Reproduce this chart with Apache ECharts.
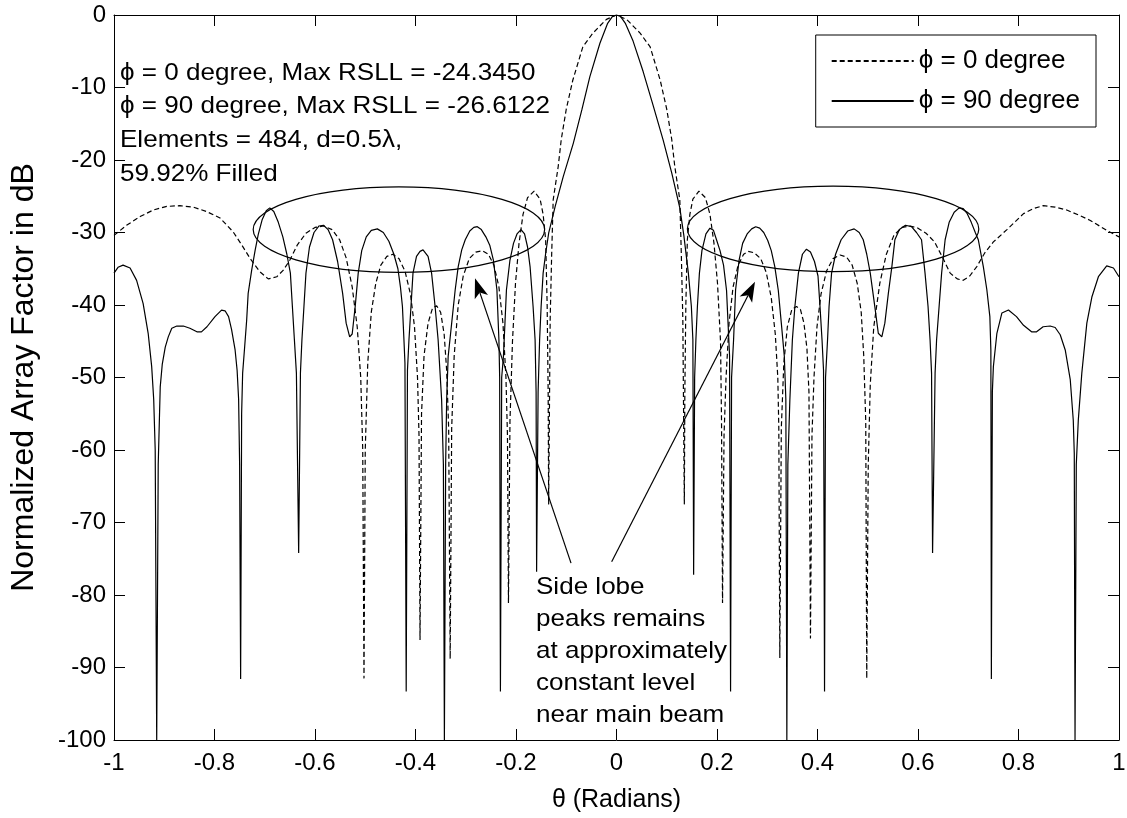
<!DOCTYPE html>
<html>
<head>
<meta charset="utf-8">
<title>Array factor cuts</title>
<script src="https://cdn.jsdelivr.net/npm/echarts@6.0.0/dist/echarts.min.js"></script>
<style>
html, body { margin: 0; padding: 0; background: #fff; }
#main { width: 1127px; height: 818px; }
</style>
</head>
<body>
<div id="main"></div>
<script>
// phi = 0 cut (dashed): theta in radians, normalized AF in dB
var thetaPhi0 = [
  -1.000, -0.975, -0.948, -0.922, -0.895, -0.869, -0.842, -0.816, -0.789, -0.763, -0.745, -0.729,
  -0.710, -0.693, -0.676, -0.663, -0.650, -0.635, -0.618, -0.600, -0.583, -0.566, -0.551, -0.538,
  -0.526, -0.516, -0.509, -0.505, -0.5025, -0.500, -0.495, -0.488, -0.479, -0.469, -0.457, -0.445,
  -0.433, -0.421, -0.410, -0.402, -0.396, -0.393, -0.391, -0.388, -0.383, -0.375, -0.366, -0.358,
  -0.350, -0.343, -0.338, -0.334, -0.331, -0.328, -0.323, -0.315, -0.305, -0.293, -0.280, -0.267,
  -0.255, -0.244, -0.234, -0.226, -0.220, -0.217, -0.215, -0.212, -0.207, -0.201, -0.194, -0.186,
  -0.177, -0.164, -0.152, -0.146, -0.141, -0.138, -0.136, -0.135, -0.132, -0.129, -0.126, -0.116,
  -0.110, -0.100, -0.087, -0.067, -0.047, -0.020, 0.000,
  0.020, 0.047, 0.067, 0.087, 0.100, 0.110, 0.116, 0.126, 0.129, 0.132, 0.135, 0.136,
  0.138, 0.141, 0.146, 0.152, 0.164, 0.177, 0.186, 0.194, 0.201, 0.207, 0.209, 0.211,
  0.214, 0.218, 0.224, 0.232, 0.242, 0.253, 0.262, 0.274, 0.287, 0.298, 0.308, 0.316,
  0.321, 0.323, 0.325, 0.328, 0.333, 0.340, 0.349, 0.358, 0.366, 0.373, 0.379, 0.383,
  0.386, 0.389, 0.393, 0.399, 0.407, 0.418, 0.431, 0.445, 0.458, 0.469, 0.479, 0.487,
  0.492, 0.496, 0.498, 0.501, 0.505, 0.512, 0.524, 0.537, 0.552, 0.568, 0.584, 0.600,
  0.616, 0.633, 0.650, 0.664, 0.678, 0.690, 0.703, 0.717, 0.733, 0.750, 0.777, 0.810,
  0.830, 0.849, 0.873, 0.896, 0.920, 0.942, 0.9755, 1.000
];
var afPhi0 = [
  -30.4, -29.0, -27.8, -26.9, -26.4, -26.3, -26.5, -27.1, -28.0, -29.9, -31.8, -33.6,
  -35.4, -36.4, -36.1, -35.2, -33.8, -31.7, -30.1, -29.3, -29.1, -29.6, -31.0, -33.5,
  -37.5, -43.0, -50.0, -60.0, -91.5, -60.0, -48.0, -41.0, -37.0, -34.5, -33.3, -33.0,
  -33.6, -35.3, -38.5, -43.0, -50.0, -58.0, -86.2, -55.0, -47.0, -42.5, -40.4, -40.1,
  -41.0, -44.0, -49.0, -57.0, -88.8, -57.0, -47.0, -40.0, -36.0, -33.6, -32.7, -32.5,
  -33.0, -34.5, -37.5, -42.5, -50.0, -58.0, -81.1, -56.0, -45.0, -37.0, -31.5, -27.5,
  -25.2, -24.3, -25.4, -27.5, -31.0, -40.0, -52.0, -67.5, -42.0, -33.0, -25.5, -20.9,
  -17.2, -13.0, -9.0, -4.4, -2.5, -0.6, 0.0,
  -0.6, -2.5, -4.4, -9.0, -13.0, -17.2, -20.9, -25.5, -33.0, -42.0, -67.5, -52.0,
  -40.0, -31.0, -27.5, -25.4, -24.3, -25.2, -27.5, -31.5, -37.0, -45.0, -56.0, -81.1,
  -58.0, -50.0, -42.5, -37.5, -34.5, -33.0, -32.6, -32.8, -33.6, -35.5, -39.0, -44.0,
  -50.0, -57.0, -88.7, -57.0, -48.0, -43.0, -40.6, -40.2, -40.6, -42.5, -46.0, -52.0,
  -86.0, -58.0, -50.0, -43.0, -38.5, -35.3, -33.6, -33.1, -33.4, -34.5, -37.0, -41.0,
  -47.0, -56.0, -91.5, -62.0, -51.0, -43.0, -37.0, -33.0, -30.4, -29.3, -29.1, -29.4,
  -30.1, -31.3, -33.6, -35.6, -36.4, -36.6, -36.0, -34.7, -32.8, -31.3, -29.6, -27.4,
  -26.7, -26.3, -26.5, -26.9, -27.6, -28.3, -29.7, -30.6
];

// phi = 90 cut (solid)
var thetaPhi90 = [
  -1.000, -0.992, -0.982, -0.968, -0.955, -0.942, -0.932, -0.925, -0.921, -0.918, -0.915, -0.912,
  -0.908, -0.904, -0.898, -0.892, -0.885, -0.875, -0.862, -0.849, -0.835, -0.826, -0.815, -0.799,
  -0.786, -0.779, -0.772, -0.766, -0.759, -0.755, -0.752, -0.750, -0.748, -0.746, -0.744, -0.740,
  -0.736, -0.733, -0.726, -0.719, -0.713, -0.705, -0.697, -0.690, -0.682, -0.673, -0.664, -0.656,
  -0.649, -0.645, -0.641, -0.637, -0.6325, -0.629, -0.626, -0.622, -0.618, -0.611, -0.602, -0.592,
  -0.583, -0.574, -0.565, -0.555, -0.545, -0.538, -0.531, -0.526, -0.520, -0.514, -0.507, -0.498,
  -0.488, -0.476, -0.464, -0.453, -0.443, -0.435, -0.430, -0.426, -0.423, -0.421, -0.4185, -0.416,
  -0.413, -0.409, -0.405, -0.398, -0.391, -0.385, -0.375, -0.368, -0.361, -0.355, -0.348, -0.3445,
  -0.3425, -0.340, -0.338, -0.335, -0.328, -0.321, -0.315, -0.308, -0.301, -0.292, -0.284, -0.277,
  -0.269, -0.260, -0.252, -0.245, -0.238, -0.234, -0.2325, -0.231, -0.2285, -0.225, -0.222, -0.219,
  -0.212, -0.205, -0.198, -0.190, -0.183, -0.177, -0.172, -0.166, -0.162, -0.160, -0.159, -0.156,
  -0.153, -0.150, -0.146, -0.141, -0.135, -0.122, -0.106, -0.086, -0.069, -0.053, -0.033, -0.018,
  -0.008, 0.000,
  0.008, 0.018, 0.033, 0.053, 0.073, 0.093, 0.110, 0.126, 0.134, 0.143, 0.149, 0.152,
  0.1535, 0.1555, 0.158, 0.161, 0.165, 0.170, 0.178, 0.186, 0.193, 0.199, 0.206, 0.213,
  0.219, 0.222, 0.225, 0.227, 0.229, 0.233, 0.237, 0.244, 0.251, 0.260, 0.269, 0.277,
  0.285, 0.293, 0.301, 0.308, 0.315, 0.322, 0.328, 0.334, 0.337, 0.339, 0.341, 0.345,
  0.350, 0.355, 0.362, 0.370, 0.378, 0.386, 0.394, 0.401, 0.405, 0.409, 0.412, 0.414,
  0.416, 0.420, 0.423, 0.428, 0.436, 0.447, 0.460, 0.473, 0.483, 0.491, 0.498, 0.505,
  0.514, 0.521, 0.528, 0.534, 0.541, 0.548, 0.554, 0.563, 0.575, 0.587, 0.597, 0.607,
  0.614, 0.620, 0.624, 0.627, 0.629, 0.634, 0.637, 0.642, 0.647, 0.654, 0.662, 0.672,
  0.682, 0.690, 0.698, 0.706, 0.714, 0.720, 0.730, 0.737, 0.743, 0.745, 0.746, 0.748,
  0.750, 0.757, 0.767, 0.780, 0.796, 0.810, 0.826, 0.836, 0.849, 0.863, 0.873, 0.883,
  0.893, 0.903, 0.909, 0.911, 0.9125, 0.915, 0.919, 0.926, 0.936, 0.946, 0.959, 0.9755,
  0.989, 1.000
];
var afPhi90 = [
  -35.6, -34.8, -34.5, -34.9, -36.6, -39.8, -43.9, -48.5, -53.0, -60.0, -100, -62.0,
  -51.3, -48.2, -45.8, -44.4, -43.2, -42.9, -42.9, -43.2, -43.7, -43.7, -43.0, -41.6,
  -40.7, -40.8, -41.6, -43.4, -46.2, -49.0, -53.0, -62.0, -91.6, -55.0, -49.4, -45.8,
  -42.1, -38.4, -35.2, -32.4, -30.3, -28.2, -27.0, -26.6, -27.1, -28.6, -30.6, -33.0,
  -35.6, -40.2, -44.8, -49.4, -74.2, -49.4, -44.8, -40.2, -35.6, -32.0, -30.0, -29.1,
  -29.0, -29.6, -31.0, -34.0, -38.4, -42.5, -44.4, -44.0, -40.2, -35.6, -32.5, -30.6,
  -29.7, -29.5, -30.0, -31.2, -33.0, -35.0, -37.5, -40.2, -44.8, -48.0, -93.3, -49.0,
  -44.8, -40.2, -35.6, -33.3, -32.6, -32.4, -33.3, -35.6, -40.2, -44.8, -53.1, -62.0,
  -100, -62.0, -53.1, -47.1, -42.5, -37.9, -34.7, -32.4, -31.0, -29.8, -29.3, -29.2,
  -29.6, -30.6, -31.8, -33.8, -37.9, -44.8, -50.0, -93.3, -50.0, -47.1, -42.5, -37.9,
  -33.8, -31.5, -30.2, -29.6, -30.2, -32.0, -34.7, -40.2, -44.8, -52.0, -76.8, -52.0,
  -44.8, -40.2, -35.6, -32.9, -30.1, -26.4, -22.3, -17.7, -13.1, -8.5, -3.9, -1.2,
  -0.2, 0.0,
  -0.2, -1.2, -3.6, -7.8, -12.5, -17.3, -21.8, -26.6, -30.4, -35.6, -40.2, -44.8,
  -77.2, -50.0, -44.8, -40.2, -35.6, -32.5, -30.2, -29.4, -29.7, -31.0, -32.5, -34.5,
  -38.0, -42.5, -47.0, -93.3, -50.0, -44.8, -37.9, -33.8, -31.5, -30.2, -29.5, -29.2,
  -29.4, -30.0, -31.1, -32.5, -34.7, -38.0, -42.5, -47.1, -53.0, -100, -62.0, -53.1,
  -44.8, -40.2, -35.6, -33.0, -32.3, -32.7, -34.0, -36.0, -40.2, -44.8, -49.0, -93.3,
  -50.0, -44.8, -40.2, -35.6, -33.0, -31.0, -29.8, -29.5, -30.0, -31.0, -33.0, -35.6,
  -40.2, -43.9, -44.4, -42.5, -38.4, -34.7, -31.0, -29.6, -29.0, -29.2, -30.0, -31.0,
  -35.6, -40.2, -44.8, -49.4, -74.2, -49.4, -44.8, -40.2, -35.6, -31.0, -28.6, -27.2,
  -26.6, -26.7, -27.4, -28.6, -30.0, -31.0, -34.7, -37.9, -41.6, -46.2, -91.6, -52.0,
  -48.5, -43.9, -41.1, -40.7, -41.6, -42.8, -43.7, -43.7, -43.0, -42.9, -43.1, -44.1,
  -46.2, -50.3, -55.9, -60.5, -100, -62.0, -55.9, -49.4, -42.5, -38.9, -36.1, -34.6,
  -34.9, -36.1
];

var seriesNames = ['\u03d5 = 0 degree', '\u03d5 = 90 degree'];
var infoLines = [
  '\u03d5 = 0 degree, Max RSLL = -24.3450',
  '\u03d5 = 90 degree, Max RSLL = -26.6122',
  'Elements = 484, d=0.5\u03bb,',
  '59.92% Filled'
];
var noteLines = ['Side lobe', 'peaks remains', 'at approximately', 'constant level', 'near main beam'];

function pairs(xs, ys) {
  var out = [];
  for (var i = 0; i < xs.length; i++) out.push([xs[i], ys[i]]);
  return out;
}

var FONT = '"Liberation Sans", Arial, sans-serif';
var chart = echarts.init(document.getElementById('main'));

var tickLabel = {
  color: '#000',
  fontSize: 24,
  fontFamily: FONT
};

var option = {
  animation: false,
  backgroundColor: '#fff',
  grid: { left: 114, right: 8, top: 15, bottom: 78, outerBoundsMode: 'none' },
  legend: {
    data: seriesNames,
    orient: 'vertical',
    right: 31,
    top: 35,
    itemWidth: 82,
    itemHeight: 14,
    itemGap: 14,
    padding: [13, 16, 13, 15],
    borderColor: '#000',
    borderWidth: 1,
    backgroundColor: '#fff',
    itemStyle: { opacity: 0 },
    textStyle: { color: '#000', fontSize: 26, fontFamily: FONT }
  },
  xAxis: [{
    type: 'value',
    min: -1, max: 1, interval: 0.2,
    position: 'bottom',
    name: '\u03b8 (Radians)',
    nameLocation: 'middle',
    nameGap: 48,
    nameTextStyle: { color: '#000', fontSize: 25, fontFamily: FONT },
    axisLine: { onZero: false, lineStyle: { color: '#000', width: 1 } },
    axisTick: { inside: true, length: 11, lineStyle: { color: '#000' } },
    axisLabel: Object.assign({ margin: 11, formatter: function (v) { return String(+v.toFixed(1)); } }, tickLabel),
    splitLine: { show: false }
  }, {
    type: 'value',
    min: -1, max: 1, interval: 0.2,
    position: 'top',
    axisLine: { onZero: false, lineStyle: { color: '#000', width: 1 } },
    axisTick: { inside: true, length: 11, lineStyle: { color: '#000' } },
    axisLabel: { show: false },
    splitLine: { show: false }
  }],
  yAxis: [{
    type: 'value',
    min: -100, max: 0, interval: 10,
    position: 'left',
    name: 'Normalized Array Factor in dB',
    nameLocation: 'middle',
    nameGap: 74,
    nameTextStyle: { color: '#000', fontSize: 32, fontFamily: FONT },
    axisLine: { onZero: false, lineStyle: { color: '#000', width: 1 } },
    axisTick: { inside: true, length: 11, lineStyle: { color: '#000' } },
    axisLabel: Object.assign({ margin: 8 }, tickLabel),
    splitLine: { show: false }
  }, {
    type: 'value',
    min: -100, max: 0, interval: 10,
    position: 'right',
    axisLine: { onZero: false, lineStyle: { color: '#000', width: 1 } },
    axisTick: { inside: true, length: 11, lineStyle: { color: '#000' } },
    axisLabel: { show: false },
    splitLine: { show: false }
  }],
  series: [{
    name: seriesNames[0],
    type: 'line',
    data: pairs(thetaPhi0, afPhi0),
    symbol: 'none',
    lineStyle: { color: '#000', width: 1.2, type: [5, 3] },
    itemStyle: { color: '#000' }
  }, {
    name: seriesNames[1],
    type: 'line',
    data: pairs(thetaPhi90, afPhi90),
    symbol: 'none',
    lineStyle: { color: '#000', width: 1.2, type: 'solid' },
    itemStyle: { color: '#000' }
  }]
};
chart.setOption(option);

// annotations placed in data coordinates
function px(t, db) { return chart.convertToPixel({ xAxisIndex: 0, yAxisIndex: 0 }, [t, db]); }

function arrow(from, to) {
  var a = px(from[0], from[1]), b = px(to[0], to[1]);
  var dx = b[0] - a[0], dy = b[1] - a[1];
  var len = Math.sqrt(dx * dx + dy * dy);
  var ux = dx / len, uy = dy / len, nx = -uy, ny = ux;
  var L = 20, W = 7;
  var base = [b[0] - ux * L, b[1] - uy * L];
  var notch = [b[0] - ux * L * 0.75, b[1] - uy * L * 0.75];
  return [{
    type: 'line',
    shape: { x1: a[0], y1: a[1], x2: notch[0], y2: notch[1] },
    style: { stroke: '#000', lineWidth: 1.2 }
  }, {
    type: 'polygon',
    shape: { points: [b, [base[0] + nx * W, base[1] + ny * W], notch, [base[0] - nx * W, base[1] - ny * W]] },
    style: { fill: '#000' }
  }];
}

function ring(center, halfW, halfH) {
  var c = px(center[0], center[1]);
  var e = px(center[0] + halfW, center[1] - halfH);
  return {
    type: 'ellipse',
    shape: { cx: c[0], cy: c[1], rx: e[0] - c[0], ry: e[1] - c[1] },
    style: { fill: null, stroke: '#000', lineWidth: 1.2 }
  };
}

// text in the source is slightly wider than it is tall
function label(t, x, y) {
  return {
    type: 'text', x: x, y: y, scaleX: 1.085,
    style: { text: t, font: '24px ' + FONT, fill: '#000', verticalAlign: 'middle' }
  };
}

var graphics = [];
infoLines.forEach(function (t, i) { graphics.push(label(t, 120, 73 + i * 33.7)); });
noteLines.forEach(function (t, i) { graphics.push(label(t, 536, 587 + i * 32)); });
graphics.push(ring([-0.433, -29.6], 0.29, 5.9));
graphics.push(ring([0.431, -29.5], 0.29, 5.9));
graphics = graphics.concat(arrow([-0.0905, -75.6], [-0.2816, -36.3]));
graphics = graphics.concat(arrow([-0.0096, -75.4], [0.2756, -36.8]));

chart.setOption({ graphic: graphics });
</script>
</body>
</html>
